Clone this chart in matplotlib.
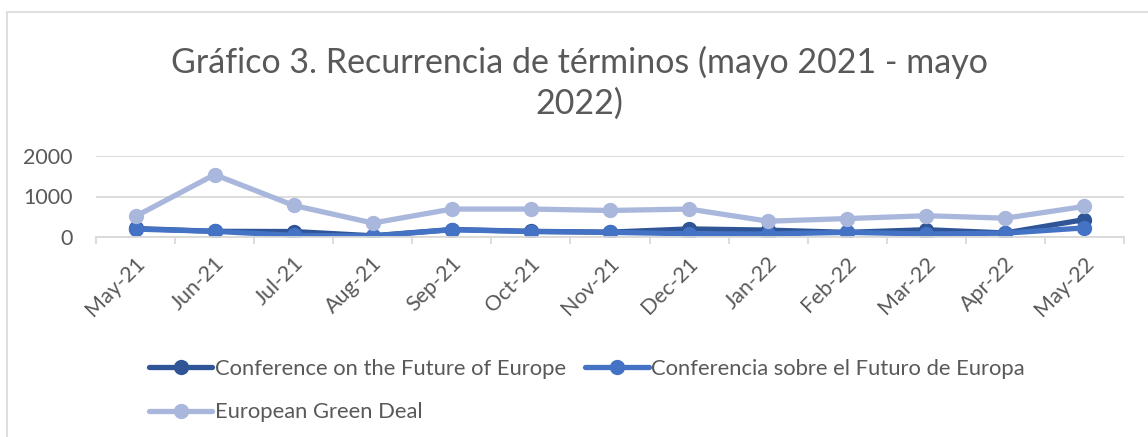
#!/usr/bin/env python3
"""Gráfico 3: recurrencia de términos, mayo 2021 - mayo 2022."""
import matplotlib
matplotlib.use('Agg')
import matplotlib.pyplot as plt
import matplotlib.patches as mpatches
import matplotlib.transforms as mtransforms
import numpy as np

months = ['May-21', 'Jun-21', 'Jul-21', 'Aug-21', 'Sep-21', 'Oct-21', 'Nov-21',
          'Dec-21', 'Jan-22', 'Feb-22', 'Mar-22', 'Apr-22', 'May-22']
conference_en = [210, 140, 135, 30, 185, 140, 120, 200, 170, 115, 180, 100, 430]
conferencia_es = [195, 140, 40, 25, 180, 135, 115, 80, 75, 115, 75, 95, 225]
green_deal = [510, 1540, 780, 345, 690, 690, 655, 690, 390, 455, 525, 465, 755]

series_names = ['Conference on the Future of Europe',
                'Conferencia sobre el Futuro de Europa',
                'European Green Deal']
colors = ['#2F5597', '#4472C4', '#A9B7DC']
text_color = '#595959'
grid_color = '#D9D9D9'

plt.rcParams['font.family'] = ['Lato', 'DejaVu Sans']

fig = plt.figure(figsize=(11.48, 4.37), dpi=100)
ax = fig.add_axes([96 / 1148, 1 - 237 / 437, 1028 / 1148, 81 / 437])

# outer chart frame (cropped on the right and bottom)
fig.patches.append(mpatches.Rectangle((7 / 1148, -0.1), 1.2, 1 - 12 / 437 + 0.1,
                                      transform=fig.transFigure, fill=False,
                                      edgecolor=grid_color, linewidth=1.2))

x = np.arange(len(months))
handles = []
for vals, name, col in zip([conference_en, conferencia_es, green_deal],
                           series_names, colors):
    h, = ax.plot(x, vals, color=col, linewidth=3.8, marker='o', markersize=10,
                 solid_capstyle='round', label=name)
    handles.append(h)

ax.set_xlim(-0.5, len(months) - 0.5)
ax.set_ylim(0, 2000)
ax.set_yticks([0, 1000, 2000])
ax.set_yticklabels(['0', '1000', '2000'])
ax.yaxis.grid(True, color=grid_color, linewidth=1.3)
ax.set_axisbelow(True)
for side in ['top', 'right', 'left']:
    ax.spines[side].set_visible(False)
ax.spines['bottom'].set_color(grid_color)
ax.spines['bottom'].set_linewidth(1.3)

ax.set_xticks(x)
ax.set_xticks(np.arange(len(months) + 1) - 0.5, minor=True)
ax.tick_params(axis='x', which='major', length=0, pad=6)
ax.tick_params(axis='x', which='minor', length=5, color=grid_color, width=1.3)
ax.tick_params(axis='y', length=0, pad=17, labelsize=15.5, labelcolor=text_color)
ax.set_xticklabels(months, rotation=45, ha='right', va='center',
                   rotation_mode='anchor', fontsize=15.5, color=text_color)
shift = mtransforms.ScaledTranslation(6 / 100, -15 / 100, fig.dpi_scale_trans)
for lbl in ax.get_xticklabels():
    lbl.set_transform(lbl.get_transform() + shift)

fig.text(0.505, 1 - 83 / 437, 'Gráfico 3. Recurrencia de términos (mayo 2021 - mayo\n2022)',
         ha='center', va='center', fontsize=24.5, color=text_color, linespacing=1.33)

fig.legend([handles[0], handles[2], handles[1]],
           [series_names[0], series_names[2], series_names[1]],
           ncol=2, loc='upper left', bbox_to_anchor=(129 / 1148, 1 - 339 / 437),
           frameon=False, fontsize=15.8, labelcolor=text_color, handlelength=2.9,
           handletextpad=0.1, columnspacing=0.9, labelspacing=1.08)

fig.savefig('out.png', dpi=100)
